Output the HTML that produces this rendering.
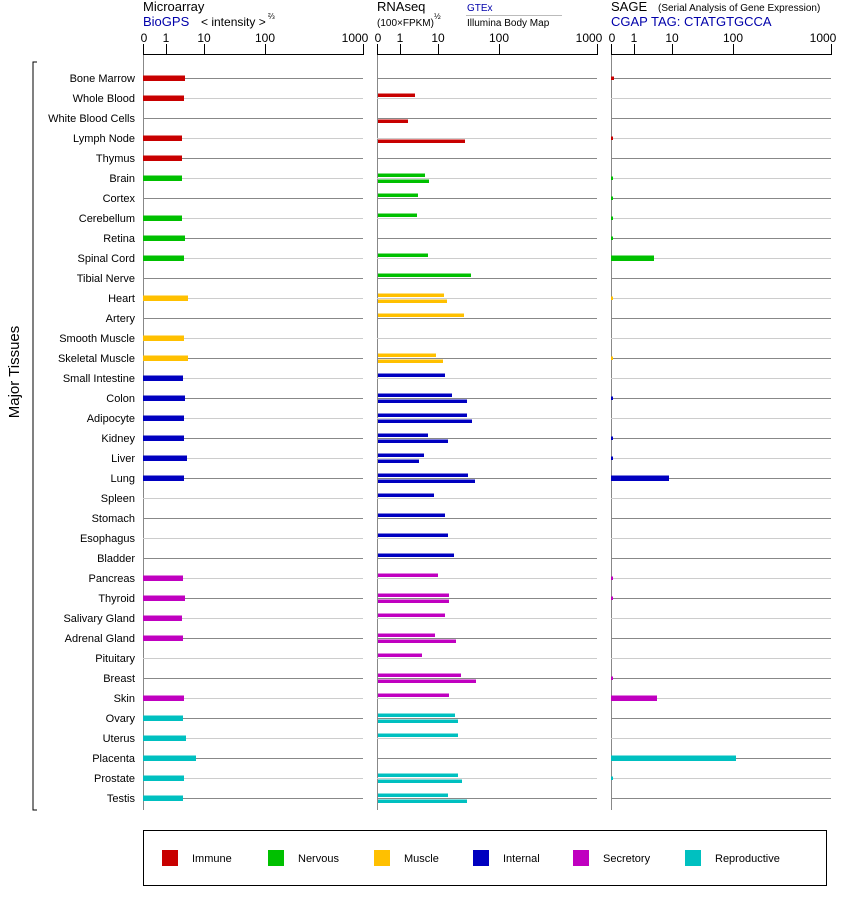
<!DOCTYPE html>
<html><head><meta charset="utf-8"><style>
body{margin:0;background:#fff}
svg{display:block;font-family:"Liberation Sans",sans-serif}
</style></head><body>
<svg width="842" height="900" viewBox="0 0 842 900" xmlns="http://www.w3.org/2000/svg">
<g font-size="13" fill="#000">
<text x="143" y="11">Microarray</text>
<text x="143" y="26" fill="#0000aa">BioGPS</text>
<text x="201" y="26" font-size="12">&lt; intensity &gt;</text>
<text x="268" y="19" font-size="8">⅔</text>
<text x="377" y="11">RNAseq</text>
<text x="377" y="26" font-size="10">(100×FPKM)</text>
<text x="434" y="19" font-size="8">½</text>
<text x="467" y="11" font-size="10" fill="#0000aa">GTEx</text>
<line x1="466" y1="15.5" x2="562" y2="15.5" stroke="#bbb"/>
<text x="467" y="26" font-size="10">Illumina Body Map</text>
<text x="611" y="11">SAGE</text>
<text x="658" y="11" font-size="10">(Serial Analysis of Gene Expression)</text>
<text x="611" y="26" fill="#0000aa">CGAP TAG: CTATGTGCCA</text>
</g>
<g id="axes" font-size="12" text-anchor="middle"></g>
<g id="grid"></g>
<g id="bars"></g>
<g id="labels" font-size="11" text-anchor="end"></g>
<path d="M37 62 H33 V810 H37" fill="none" stroke="#000"/>
<text x="19" y="372" font-size="15" text-anchor="middle" transform="rotate(-90 19 372)">Major Tissues</text>
<rect x="143.5" y="830.5" width="683" height="55" fill="none" stroke="#000"/>
<g font-size="11" id="legend"></g>
</svg>
<script>
const NS="http://www.w3.org/2000/svg";
function el(p,t,a,txt){const e=document.createElementNS(NS,t);for(const k in a)e.setAttribute(k,a[k]);if(txt!==undefined)e.textContent=txt;document.getElementById(p).appendChild(e);}
const X0=[143,377,611],ticks=[[0,"0"],[23,"1"],[61,"10"],[122,"100"],[220,"1000"]];
X0.forEach(x=>{
 el("axes","line",{x1:x,y1:54.5,x2:x+220,y2:54.5,stroke:"#000"});
 ticks.forEach(([d,l])=>{el("axes","line",{x1:x+d+.5,y1:44,x2:x+d+.5,y2:55,stroke:"#000"});
  el("axes","text",{x:x+d+(d==220?-8:d==0?1:0),y:42},l);});
 el("grid","line",{x1:x+.5,y1:55,x2:x+.5,y2:810,stroke:"#888"});
});
const rows=["Bone Marrow","Whole Blood","White Blood Cells","Lymph Node","Thymus","Brain","Cortex","Cerebellum","Retina","Spinal Cord","Tibial Nerve","Heart","Artery","Smooth Muscle","Skeletal Muscle","Small Intestine","Colon","Adipocyte","Kidney","Liver","Lung","Spleen","Stomach","Esophagus","Bladder","Pancreas","Thyroid","Salivary Gland","Adrenal Gland","Pituitary","Breast","Skin","Ovary","Uterus","Placenta","Prostate","Testis"];
const C={r:"#c80000",g:"#00c000",y:"#ffc000",b:"#0000c0",m:"#c000c0",c:"#00c0c0"};
const colr=["r","r","r","r","r","g","g","g","g","g","g","y","y","y","y","b","b","b","b","b","b","b","b","b","b","m","m","m","m","m","m","m","c","c","c","c","c"];
const micro=[185,184,0,182,182,182,0,182,185,184,0,188,0,184,188,183,185,184,184,187,184,0,0,0,0,183,185,182,183,0,0,184,183,186,196,184,183];
const rna=[[],[[-3,415]],[[3,408]],[[3,465]],[],[[-3,425],[3,429]],[[-3,418]],[[-3,417]],[],[[-3,428]],[[-3,471]],[[-3,444],[3,447]],[[-3,464]],[],[[-3,436],[3,443]],[[-3,445]],[[-3,452],[3,467]],[[-3,467],[3,472]],[[-3,428],[3,448]],[[-3,424],[3,419]],[[-3,468],[3,475]],[[-3,434]],[[-3,445]],[[-3,448]],[[-3,454]],[[-3,438]],[[-3,449],[3,449]],[[-3,445]],[[-3,435],[3,456]],[[-3,422]],[[-3,461],[3,476]],[[-3,449]],[[-3,455],[3,458]],[[-3,458]],[],[[-3,458],[3,462]],[[-3,448],[3,467]]];
const sage={0:614,3:613,5:613,6:613,7:613,8:613,9:654,11:613,14:613,16:613,18:613,19:613,20:669,25:613,26:613,30:613,31:657,34:736,35:613};
rows.forEach((n,i)=>{
 const y=78+i*20, s=i%2==0?"#888":"#ccc", c=C[colr[i]];
 X0.forEach(x=>el("grid","line",{x1:x,y1:y+.5,x2:x+220,y2:y+.5,stroke:s}));
 el("labels","text",{x:135,y:y+4},n);
 if(micro[i])el("bars","rect",{x:143,y:y-2.5,width:micro[i]-143,height:5.5,fill:c});
 rna[i].forEach(([o,e])=>el("bars","rect",{x:378,y:y+o-1.5,width:e-378,height:3.5,fill:c}));
 if(sage[i]){const w=sage[i]-611;el("bars","rect",{x:611,y:y-(w>5?2.5:1.5),width:w,height:w>5?5.5:3.5,fill:c});}
});
[["Immune","r",162],["Nervous","g",268],["Muscle","y",374],["Internal","b",473],["Secretory","m",573],["Reproductive","c",685]].forEach(([l,k,x])=>{
 el("legend","rect",{x:x,y:850,width:16,height:16,fill:C[k]});
 el("legend","text",{x:x+30,y:862},l);
});
</script>
</body></html>
